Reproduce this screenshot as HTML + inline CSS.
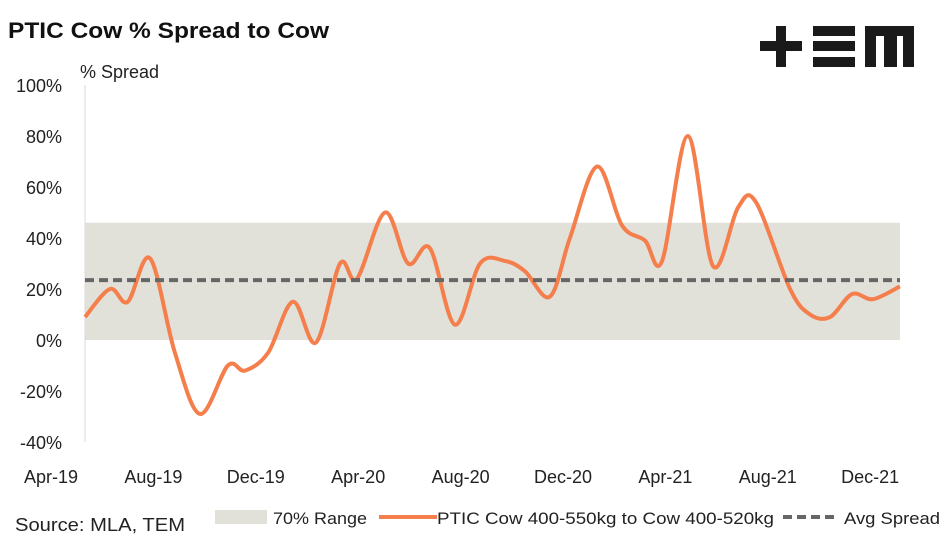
<!DOCTYPE html>
<html><head><meta charset="utf-8"><style>
body{margin:0;width:947px;height:543px;background:#fff;font-family:"Liberation Sans",sans-serif;overflow:hidden}
</style></head><body>
<svg width="947" height="543" viewBox="0 0 947 543">
<text x="8" y="38" font-size="22" font-weight="bold" fill="#111" textLength="321" lengthAdjust="spacingAndGlyphs">PTIC Cow % Spread to Cow</text>
<g fill="#1a1a1a">
<rect x="760" y="41" width="42" height="10"/><rect x="776" y="26" width="10" height="41"/>
<rect x="813" y="26" width="42" height="10"/><rect x="813" y="41" width="42" height="10"/><rect x="813" y="57" width="42" height="10"/>
<rect x="865" y="26" width="49" height="10"/><rect x="865" y="26" width="11" height="41"/><rect x="884" y="26" width="13" height="41"/><rect x="903" y="26" width="11" height="41"/>
</g>
<text x="80" y="78" font-size="18" fill="#222">% Spread</text>
<g id="plot"></g>
<g font-size="17" fill="#222">
<text x="15" y="531" font-size="18" textLength="170" lengthAdjust="spacingAndGlyphs">Source: MLA, TEM</text>
<rect x="215" y="510" width="52" height="14" fill="#e2e1d9"/>
<text x="273" y="524" textLength="94" lengthAdjust="spacingAndGlyphs">70% Range</text>
<line x1="379" y1="517" x2="437" y2="517" stroke="#f47f4d" stroke-width="4"/>
<text x="437" y="524" textLength="337" lengthAdjust="spacingAndGlyphs">PTIC Cow 400-550kg to Cow 400-520kg</text>
<line x1="783" y1="517" x2="838" y2="517" stroke="#666" stroke-width="4" stroke-dasharray="9,5"/>
<text x="844" y="524" textLength="96" lengthAdjust="spacingAndGlyphs">Avg Spread</text>
</g>
</svg>
<script>
const yTicks=[100,80,60,40,20,0,-20,-40];
const xLabels=["Apr-19","Aug-19","Dec-19","Apr-20","Aug-20","Dec-20","Apr-21","Aug-21","Dec-21"];
const xLabelMonths=[0,4,8,12,16,20,24,28,32];
const seriesMonths=[1.33,2.3,3.0,3.87,4.84,5.82,6.91,7.58,8.48,9.45,10.35,11.29,11.95,13.05,13.95,14.8,15.78,16.76,17.73,18.51,19.49,20.27,21.33,22.30,23.2,23.87,24.88,25.86,26.84,27.54,28.87,29.65,30.43,31.29,32.11,33.16];
const seriesValues=[9,20,15,32,-5,-29,-10,-12,-5,15,-1,30,24,50,30,36,6,30,31,27,17,40,68,45,39,31,80,29,52,54,20,10,9,18,16,21];
const rangeLow=0, rangeHigh=46, avgSpread=23.5;
const NS="http://www.w3.org/2000/svg";
const plot=document.getElementById('plot');
const X0=85,X1=900;
const y=v=>340-v*2.55;
const x=m=>51+m*25.6;
function mk(t,a){const e=document.createElementNS(NS,t);for(const k in a)e.setAttribute(k,a[k]);plot.appendChild(e);return e;}
let r=mk('rect',{x:X0,y:y(rangeHigh),width:X1-X0,height:y(rangeLow)-y(rangeHigh),fill:'#e2e1d9'});


let ax=mk('line',{x1:X0,y1:y(100),x2:X0,y2:y(-40),stroke:'#d9d9d9','stroke-width':1});


yTicks.forEach(v=>{const t=mk('text',{x:62,y:y(v)+7,'font-size':18,'text-anchor':'end',fill:'#222'});t.textContent=v+'%';

});
xLabels.forEach((l,i)=>{const t=mk('text',{x:x(xLabelMonths[i]),y:483,'font-size':18,'text-anchor':'middle',fill:'#222'});t.textContent=l;

});
const pts=seriesMonths.map((m,i)=>[x(m),y(seriesValues[i])]);
let d='M'+pts[0][0]+','+pts[0][1];
for(let i=0;i<pts.length-1;i++){const p0=pts[i-1]||pts[i],p1=pts[i],p2=pts[i+1],p3=pts[i+2]||p2;
d+=' C'+(p1[0]+(p2[0]-p0[0])/6)+','+(p1[1]+(p2[1]-p0[1])/6)+' '+(p2[0]-(p3[0]-p1[0])/6)+','+(p2[1]-(p3[1]-p1[1])/6)+' '+p2[0]+','+p2[1];}
let ln=mk('path',{d:d,fill:'none',stroke:'#f47f4d','stroke-width':4,'stroke-linejoin':'round'});


let av=mk('line',{x1:X0,y1:y(avgSpread),x2:X1,y2:y(avgSpread),stroke:'#666','stroke-width':4,'stroke-dasharray':'9,5'});


</script>
</body></html>
